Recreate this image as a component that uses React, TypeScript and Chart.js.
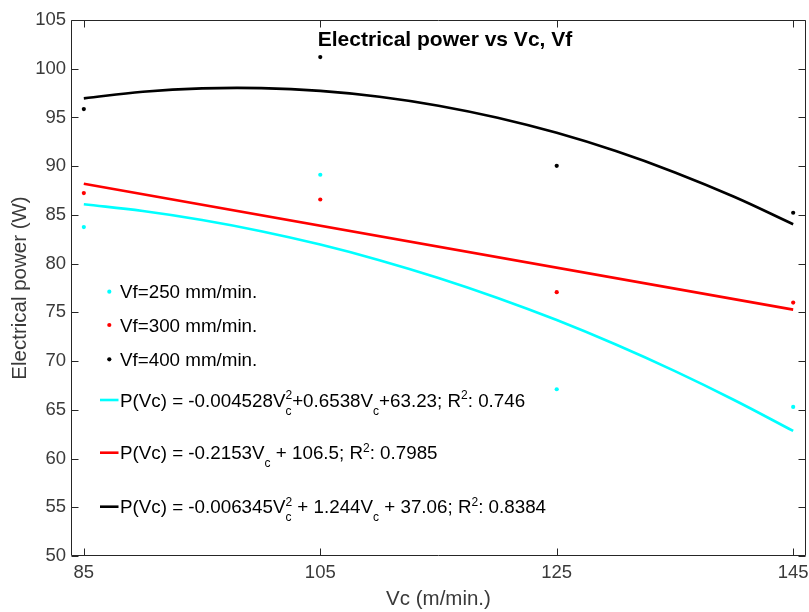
import React, { useEffect, useRef } from 'react';
import { Chart, registerables } from 'chart.js';

Chart.register(...registerables);

const FONT = "'Liberation Sans', Arial, Helvetica, sans-serif";

// Measured points (Vc in m/min, power in W)
const vcValues = [85, 105, 125, 145];
const power250 = [83.75, 89.12, 67.11, 65.3];
const power300 = [87.24, 86.58, 77.07, 76.0];
const power400 = [95.86, 101.2, 90.04, 85.22];

// Fitted curves read along Vc
const fitVc = [85, 90, 95, 100, 105, 110, 115, 120, 125, 130, 135, 140, 145];
const fit250 = [86.09, 85.4, 84.48, 83.33, 81.96, 80.36, 78.53, 76.48, 74.21, 71.7, 68.97, 66.01, 62.83];
const fit400 = [96.96, 97.63, 97.98, 98.01, 97.73, 97.13, 96.21, 94.97, 93.42, 91.55, 89.36, 86.86, 84.04];
const fit300Vc = [85, 145];
const fit300 = [88.2, 75.28];

const xTicks = [85, 105, 125, 145];
const yTicks = [50, 55, 60, 65, 70, 75, 80, 85, 90, 95, 100, 105];
const xRange = [84, 146];
const yRange = [50, 105];

const titleText = 'Electrical power vs Vc, Vf';
const xTitle = 'Vc (m/min.)';
const yTitle = 'Electrical power (W)';
const pointLabels = ['Vf=250 mm/min.', 'Vf=300 mm/min.', 'Vf=400 mm/min.'];
const fitLabels = [
  'P(Vc) = -0.004528V^{2}_{c}+0.6538V_{c}+63.23; R^{2}: 0.746',
  'P(Vc) = -0.2153V_{c} + 106.5; R^{2}: 0.7985',
  'P(Vc) = -0.006345V^{2}_{c} + 1.244V_{c} + 37.06; R^{2}: 0.8384',
];
const seriesColors = ['#00ffff', '#ff0000', '#000000'];

const AXIS_COLOR = '#262626';
const TEXT_GRAY = '#3a3a3a';

function drawRich(ctx: CanvasRenderingContext2D, text: string, x: number, baseline: number, size: number) {
  const small = 12;
  const re = /(\^\{[^}]*\}_\{[^}]*\}|\^\{[^}]*\}|_\{[^}]*\}|[^^_]+)/g;
  const parts = text.match(re) || [];
  let cx = x;
  for (const p of parts) {
    if (p.startsWith('^{') && p.includes('}_{')) {
      const m = p.match(/^\^\{([^}]*)\}_\{([^}]*)\}$/)!;
      ctx.font = `${small}px ${FONT}`;
      ctx.fillText(m[1], cx, baseline - 7.5);
      ctx.fillText(m[2], cx, baseline + 8);
      cx += Math.max(ctx.measureText(m[1]).width, ctx.measureText(m[2]).width);
    } else if (p.startsWith('^{')) {
      const t = p.slice(2, -1);
      ctx.font = `${small}px ${FONT}`;
      ctx.fillText(t, cx, baseline - 7.5);
      cx += ctx.measureText(t).width;
    } else if (p.startsWith('_{')) {
      const t = p.slice(2, -1);
      ctx.font = `${small}px ${FONT}`;
      ctx.fillText(t, cx, baseline + 8);
      cx += ctx.measureText(t).width;
    } else {
      ctx.font = `${size}px ${FONT}`;
      ctx.fillText(p, cx, baseline);
      cx += ctx.measureText(p).width;
    }
  }
}

const overlayPlugin = {
  id: 'overlay',
  afterDraw(chart: any) {
    const { ctx, chartArea: a, scales } = chart;
    const xs = scales.x;
    const ys = scales.y;
    ctx.save();
    // axes box
    ctx.strokeStyle = AXIS_COLOR;
    ctx.lineWidth = 1;
    const L = a.left - 0.5, R = a.right + 0.5, T = a.top + 0.5, B = a.bottom - 0.5;
    ctx.beginPath();
    ctx.moveTo(L, T); ctx.lineTo(R, T); ctx.lineTo(R, B); ctx.lineTo(L, B); ctx.closePath();
    ctx.stroke();
    // inward ticks
    const tl = 7;
    ctx.beginPath();
    for (const v of xTicks) {
      const px = Math.round(xs.getPixelForValue(v)) + 0.5;
      ctx.moveTo(px, B); ctx.lineTo(px, B - tl);
      ctx.moveTo(px, T); ctx.lineTo(px, T + tl);
    }
    for (const v of yTicks) {
      const py = Math.round(ys.getPixelForValue(v)) + 0.5;
      ctx.moveTo(L, py); ctx.lineTo(L + tl, py);
      ctx.moveTo(R, py); ctx.lineTo(R - tl, py);
    }
    ctx.stroke();

    // title
    ctx.fillStyle = '#000';
    ctx.font = `bold 21px ${FONT}`;
    ctx.textAlign = 'center';
    ctx.textBaseline = 'middle';
    ctx.fillText(titleText, 445, 40);

    // legend
    const lsize = 18.8;
    ctx.textAlign = 'left';
    ctx.textBaseline = 'alphabetic';
    const dotYs = [291.7, 325, 359.3];
    pointLabels.forEach((label, i) => {
      ctx.fillStyle = seriesColors[i];
      ctx.beginPath();
      ctx.arc(109.3, dotYs[i], 2.1, 0, Math.PI * 2);
      ctx.fill();
      ctx.fillStyle = '#000';
      ctx.font = `${lsize}px ${FONT}`;
      ctx.fillText(label, 120, dotYs[i] + 6.6);
    });
    const lineYs = [400, 452.7, 506.7];
    fitLabels.forEach((label, i) => {
      ctx.strokeStyle = seriesColors[i];
      ctx.lineWidth = 2.6;
      ctx.beginPath();
      ctx.moveTo(100, lineYs[i]);
      ctx.lineTo(118.5, lineYs[i]);
      ctx.stroke();
      ctx.fillStyle = '#000';
      drawRich(ctx, label, 120, lineYs[i] + 6.6, lsize);
    });
    ctx.restore();
  },
};

export default function App() {
  const ref = useRef<HTMLCanvasElement>(null);
  useEffect(() => {
    const canvas = ref.current!;
    const pts = (xsArr: number[], ysArr: number[]) => xsArr.map((x, i) => ({ x, y: ysArr[i] }));
    const chart = new Chart(canvas, {
      type: 'scatter',
      data: {
        datasets: [
          { label: 'fit250', data: pts(fitVc, fit250), showLine: true, borderColor: seriesColors[0], borderWidth: 2.6, pointRadius: 0, tension: 0.4, fill: false } as any,
          { label: 'fit300', data: pts(fit300Vc, fit300), showLine: true, borderColor: seriesColors[1], borderWidth: 2.6, pointRadius: 0, tension: 0, fill: false } as any,
          { label: 'fit400', data: pts(fitVc, fit400), showLine: true, borderColor: seriesColors[2], borderWidth: 2.6, pointRadius: 0, tension: 0.4, fill: false } as any,
          { label: pointLabels[0], data: pts(vcValues, power250), showLine: false, backgroundColor: seriesColors[0], borderWidth: 0, pointRadius: 2.1 } as any,
          { label: pointLabels[1], data: pts(vcValues, power300), showLine: false, backgroundColor: seriesColors[1], borderWidth: 0, pointRadius: 2.1 } as any,
          { label: pointLabels[2], data: pts(vcValues, power400), showLine: false, backgroundColor: seriesColors[2], borderWidth: 0, pointRadius: 2.1 } as any,
        ],
      },
      options: {
        responsive: false,
        animation: false,
        devicePixelRatio: 1,
        layout: { padding: { left: 0, right: 2, top: 20, bottom: 0 } },
        plugins: {
          legend: { display: false },
          tooltip: { enabled: false },
          title: { display: false },
        },
        scales: {
          x: {
            type: 'linear',
            min: xRange[0],
            max: xRange[1],
            afterBuildTicks: (s: any) => { s.ticks = xTicks.map((v) => ({ value: v })); },
            afterFit: (s: any) => { s.height = 56; s.paddingLeft = 0; s.paddingRight = 0; },
            ticks: { autoSkip: false, maxRotation: 0, padding: 6, color: TEXT_GRAY, font: { size: 18.5, family: FONT } },
            grid: { display: false, drawTicks: false },
            border: { display: false },
            title: { display: true, text: xTitle, color: TEXT_GRAY, font: { size: 20.5, family: FONT }, padding: { top: 0, bottom: 0 } },
          },
          y: {
            type: 'linear',
            min: yRange[0],
            max: yRange[1],
            afterBuildTicks: (s: any) => { s.ticks = yTicks.map((v) => ({ value: v })); },
            afterFit: (s: any) => { s.width = 72; s.paddingTop = 0; s.paddingBottom = 0; },
            ticks: { autoSkip: false, padding: 6, color: TEXT_GRAY, font: { size: 18.5, family: FONT } },
            grid: { display: false, drawTicks: false },
            border: { display: false },
            title: { display: true, text: yTitle, color: TEXT_GRAY, font: { size: 20.5, family: FONT }, padding: { top: 8, bottom: 0 } },
          },
        },
      } as any,
      plugins: [overlayPlugin],
    });
    return () => chart.destroy();
  }, []);
  return (
    <div style={{ position: 'fixed', left: 0, top: 0, width: 809, height: 612, background: '#fff' }}>
      <canvas ref={ref} width={809} height={612} style={{ display: 'block', width: 809, height: 612 }} />
    </div>
  );
}
